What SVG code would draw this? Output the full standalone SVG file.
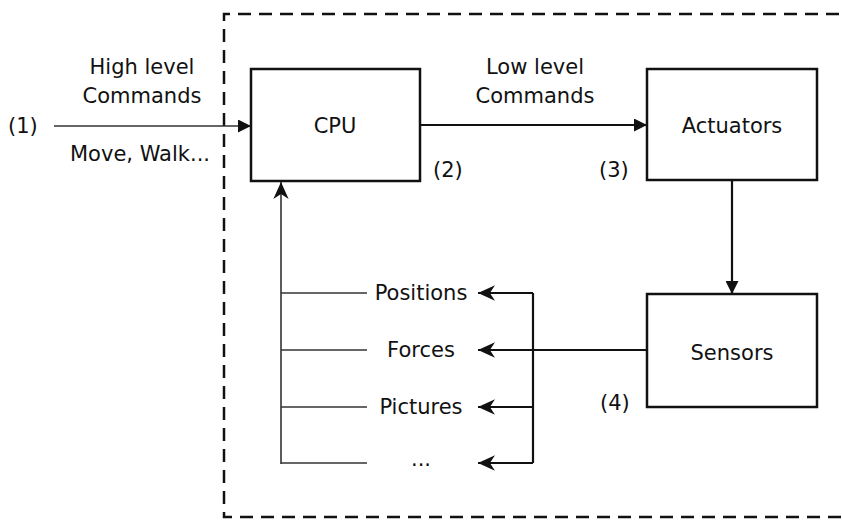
<svg xmlns="http://www.w3.org/2000/svg" width="842" height="522" viewBox="0 0 842 522">
<style>
  text { font-family: "DejaVu Sans", Verdana, sans-serif; font-size: 21px; fill: #111; }
  .box { fill: #fff; stroke: #111; stroke-width: 2.5; }
  .ln { fill: none; stroke: #111; stroke-width: 2.2; }
  .thin { fill: none; stroke: #333; stroke-width: 1.6; }
  .dash { fill: none; stroke: #111; stroke-width: 2.5; stroke-dasharray: 13 8; }
  .c { text-anchor: middle; }
</style>
<defs>
  <marker id="ah" viewBox="0 0 10 10" refX="10" refY="5" markerWidth="14" markerHeight="13" markerUnits="userSpaceOnUse" orient="auto">
    <path d="M0,0 L10,5 L0,10 z" fill="#111"/>
  </marker>
  <marker id="ahs" viewBox="0 0 10 10" refX="10" refY="5" markerWidth="17" markerHeight="17" markerUnits="userSpaceOnUse" orient="auto">
    <path d="M0,0.5 L10,5 L0,9.5 L3,5 z" fill="#111"/>
  </marker>
</defs>
<rect width="842" height="522" fill="#fff"/>
<path class="dash" d="M860,14 H224 V517 H860"/>

<g id="connectors">
  <line class="thin" x1="54" y1="126" x2="251" y2="126" marker-end="url(#ah)"/>
  <line class="ln" x1="420" y1="125" x2="647" y2="125" marker-end="url(#ah)"/>
  <line class="ln" x1="732" y1="180" x2="732" y2="294" marker-end="url(#ah)"/>
  <line class="thin" x1="281" y1="464" x2="281" y2="182" marker-end="url(#ahs)"/>
  <line class="thin" x1="281" y1="293" x2="367" y2="293"/>
  <line class="thin" x1="281" y1="350" x2="367" y2="350"/>
  <line class="thin" x1="281" y1="407" x2="367" y2="407"/>
  <line class="thin" x1="281" y1="463" x2="367" y2="463"/>
  <line class="ln" x1="647" y1="350" x2="533" y2="350"/>
  <line class="ln" x1="533" y1="293" x2="533" y2="463"/>
  <line class="ln" x1="533" y1="293" x2="478" y2="293" marker-end="url(#ahs)"/>
  <line class="ln" x1="533" y1="350" x2="478" y2="350" marker-end="url(#ahs)"/>
  <line class="ln" x1="533" y1="407" x2="478" y2="407" marker-end="url(#ahs)"/>
  <line class="ln" x1="533" y1="463" x2="478" y2="463" marker-end="url(#ahs)"/>
</g>

<g id="cpu">
  <rect class="box" x="251" y="69" width="169" height="112"/>
  <text class="c" x="335" y="133">CPU</text>
</g>
<g id="actuators">
  <rect class="box" x="647" y="69" width="170" height="111"/>
  <text class="c" x="732" y="133">Actuators</text>
</g>
<g id="sensors">
  <rect class="box" x="647" y="294" width="170" height="113"/>
  <text class="c" x="732" y="360">Sensors</text>
</g>

<g id="labels">
  <text x="8" y="133">(1)</text>
  <text class="c" x="142" y="74">High level</text>
  <text class="c" x="142" y="103">Commands</text>
  <text class="c" x="140" y="161">Move, Walk...</text>
  <text class="c" x="535" y="74">Low level</text>
  <text class="c" x="535" y="103">Commands</text>
  <text x="433" y="177">(2)</text>
  <text x="599" y="177">(3)</text>
  <text x="600" y="410">(4)</text>
  <text class="c" x="421" y="300">Positions</text>
  <text class="c" x="421" y="357">Forces</text>
  <text class="c" x="421" y="414">Pictures</text>
  <text class="c" x="421" y="466">...</text>
</g>
</svg>
